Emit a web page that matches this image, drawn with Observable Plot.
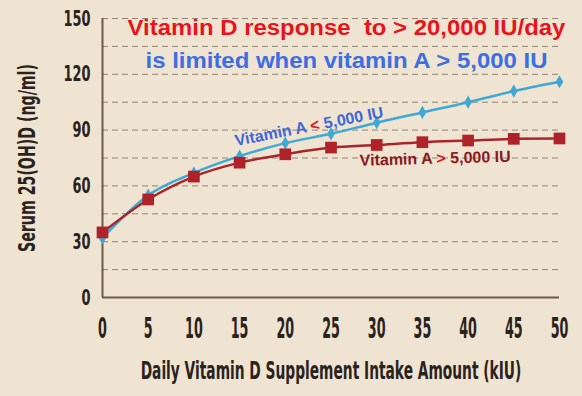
<!DOCTYPE html>
<html>
<head>
<meta charset="utf-8">
<script src="https://cdn.jsdelivr.net/npm/d3@7"></script>
<script src="https://cdn.jsdelivr.net/npm/@observablehq/plot@0.6"></script>
<style>
  html, body { margin: 0; padding: 0; background: #efe4d1; }
  #chart { width: 582px; height: 396px; overflow: hidden; }
</style>
</head>
<body>
<div id="chart"></div>
<script>
// ---- data ----
const doseKIU = [0, 5, 10, 15, 20, 25, 30, 35, 40, 45, 50];
const vitALow = [32, 55, 67, 76, 83, 88, 94, 99.5, 105, 111, 116];          // Vitamin A < 5,000 IU
const vitAHigh = [35, 52.7, 65, 72.5, 77, 80.6, 82, 83.5, 84.4, 85.3, 85.5]; // Vitamin A > 5,000 IU
const xTicks = [0, 5, 10, 15, 20, 25, 30, 35, 40, 45, 50];
const yTicks = [0, 30, 60, 90, 120, 150];
const gridVals = [15, 30, 45, 60, 75, 90, 105, 120, 135, 150];
const titleLine1 = ["Vitamin D response  to > 20,000 IU/day"];
const titleLine2 = ["is limited when vitamin A > 5,000 IU"];
const xTitle = ["Daily Vitamin D Supplement Intake Amount (kIU)"];
const yTitle = ["Serum 25(OH)D (ng/ml)"];
const lowLabel = [{x: 22.6, y: 91.9, text: "Vitamin A < 5,000 IU"}];
const highLabel = [{x: 36.4, y: 74.7, text: "Vitamin A > 5,000 IU"}];

const low = doseKIU.map((d, i) => ({x: d, y: vitALow[i]}));
const high = doseKIU.map((d, i) => ({x: d, y: vitAHigh[i]}));

const cond = "'DejaVu Sans', sans-serif";
const arial = "'Liberation Sans', Arial, sans-serif";
const ink = "#2a221c";

const chart = Plot.plot({
  width: 582,
  height: 396,
  marginLeft: 102,
  marginRight: 23,
  marginTop: 18,
  marginBottom: 99,
  style: {background: "#efe4d1", fontFamily: cond, color: ink},
  x: {domain: [0, 50]},
  y: {domain: [0, 150]},
  marks: [
    Plot.gridY(gridVals, {stroke: "#8f8476", strokeOpacity: 1, strokeWidth: 1, strokeDasharray: "6,4"}),
    Plot.axisY(yTicks, {tickSize: 0, tickPadding: 12, fontSize: 22, fontWeight: "bold", label: null, fill: ink}),
    Plot.axisX(xTicks, {tickSize: 0, tickPadding: 21, fontSize: 28, fontWeight: "bold", label: null, fill: ink}),
    Plot.ruleX([0], {stroke: "#6b5a48", strokeWidth: 2}),
    Plot.ruleY([0], {stroke: "#6b5a48", strokeWidth: 2}),
    Plot.line(low, {x: "x", y: "y", stroke: "#3fa8d4", strokeWidth: 2.5, curve: "monotone-x"}),
    Plot.dot(low, {x: "x", y: "y", symbol: "diamond", r: 4, fill: "#3fa8d4", stroke: "none"}),
    Plot.line(high, {x: "x", y: "y", stroke: "#a8262b", strokeWidth: 2.5, curve: "monotone-x"}),
    Plot.dot(high, {x: "x", y: "y", symbol: "square", r: 6.6, fill: "#b0222a", stroke: "none"}),
    Plot.text(lowLabel, {x: "x", y: "y", text: "text", rotate: -11, fill: "#4066d8", fontSize: 16, fontWeight: "bold", fontFamily: arial, className: "lbl-low"}),
    Plot.text(highLabel, {x: "x", y: "y", text: "text", rotate: -1.5, fill: "#8b1a1e", fontSize: 16, fontWeight: "bold", fontFamily: arial, className: "lbl-high"}),
    Plot.text(titleLine1, {frameAnchor: "top", lineAnchor: "middle", dx: 15.5, dy: 9.5, fill: "#e8141c", fontSize: 22, fontWeight: "bold", fontFamily: arial, className: "ttl1"}),
    Plot.text(titleLine2, {frameAnchor: "top", lineAnchor: "middle", dx: 15.5, dy: 42, fill: "#3d6fe0", fontSize: 22, fontWeight: "bold", fontFamily: arial, className: "ttl2"}),
    Plot.text(yTitle, {frameAnchor: "left", textAnchor: "middle", lineAnchor: "middle", rotate: -90, dx: -74.5, fontSize: 22.5, fontWeight: "bold", fill: ink, className: "ytitle"}),
    Plot.text(xTitle, {frameAnchor: "bottom", lineAnchor: "middle", dy: 73, fontSize: 25.5, fontWeight: "bold", fill: ink, className: "xtitle"})
  ]
});

document.getElementById("chart").appendChild(chart);

// colour the comparison sign inside the series labels
function splitSign(sel, sign, signColor) {
  d3.select(chart).selectAll(sel + " text").each(function() {
    const t = d3.select(this);
    const s = t.text();
    const i = s.indexOf(sign);
    if (i < 0) return;
    t.text(null);
    t.append("tspan").text(s.slice(0, i));
    t.append("tspan").attr("fill", signColor).text(sign);
    t.append("tspan").text(s.slice(i + 1));
  });
}
splitSign(".lbl-low", "<", "#e8141c");
splitSign(".lbl-high", ">", "#e8141c");

// horizontal squeeze / stretch of text to mimic the reference typefaces
function squeeze(node, sx) {
  const tr = node.getAttribute("transform") || "";
  node.setAttribute("transform", `${tr} scale(${sx},1)`);
}
function fitGroup(selector, refText, target) {
  const nodes = Array.from(chart.querySelectorAll(selector));
  const ref = nodes.find(n => n.textContent === refText) || nodes[0];
  if (!ref) return;
  const len = ref.getComputedTextLength();
  if (!len) return;
  const sx = target / len;
  nodes.forEach(n => squeeze(n, sx));
}
fitGroup('g[aria-label="x-axis tick label"] text', "50", 17.7);
fitGroup('g[aria-label="y-axis tick label"] text', "150", 27);
fitGroup(".ytitle text", yTitle[0], 188);
fitGroup(".xtitle text", xTitle[0], 381);
fitGroup(".ttl1 text", titleLine1[0], 438);
fitGroup(".ttl2 text", titleLine2[0], 402);
</script>
</body>
</html>
